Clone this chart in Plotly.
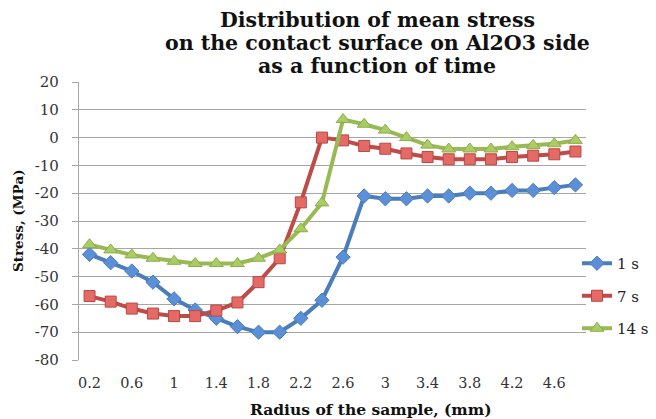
import plotly.graph_objects as go

radius = [0.2, 0.4, 0.6, 0.8, 1.0, 1.2, 1.4, 1.6, 1.8, 2.0, 2.2, 2.4,
          2.6, 2.8, 3.0, 3.2, 3.4, 3.6, 3.8, 4.0, 4.2, 4.4, 4.6, 4.8]
s1 = [-42, -45, -48, -52, -58, -62, -65, -68, -70, -70, -65, -58.5,
      -43, -21, -22, -22, -21, -21, -20, -20, -19, -19, -18, -17]
s7 = [-57, -59, -61.5, -63.3, -64.2, -64.2, -62.2, -59.3, -52, -43.4, -23.3, 0,
      -1, -3, -4, -5.7, -7, -7.8, -7.8, -7.8, -7, -6.5, -6, -5]
s14 = [-38.5, -40.4, -42.2, -43.4, -44.5, -45.3, -45.3, -45.3, -43.4, -40.4, -32.8, -23.5,
       6.5, 4.8, 2.7, 0, -2.7, -4.1, -4.1, -4.1, -3.3, -2.8, -2.2, -1]
x_tick_vals = [0.2, 0.6, 1.0, 1.4, 1.8, 2.2, 2.6, 3.0, 3.4, 3.8, 4.2, 4.6]
x_tick_text = ["0.2", "0.6", "1", "1.4", "1.8", "2.2", "2.6", "3", "3.4", "3.8", "4.2", "4.6"]
y_tick_vals = [20, 10, 0, -10, -20, -30, -40, -50, -60, -70, -80]
y_tick_text = ["20", "10", "0", "-10", "-20", "-30", "-40", "-50", "-60", "-70", "-80"]
names = ["1 s", "7 s", "14 s"]
title_lines = ["Distribution of mean stress",
               "on the contact surface on Al2O3 side",
               "as a function of time"]
x_title = "Radius of the sample, (mm)"
y_title = "Stress, (MPa)"

serif = "DejaVu Serif"

fig = go.Figure()
fig.add_trace(go.Scatter(
    x=radius, y=s1, name=names[0], mode="lines+markers", legendgroup="a",
    line=dict(color="#4A7EBB", width=4),
    marker=dict(symbol="diamond", size=11, color="#5B90D8", line=dict(color="#4A7EBB", width=1))))
fig.add_trace(go.Scatter(
    x=radius, y=s7, name=names[1], mode="lines+markers", legendgroup="b",
    line=dict(color="#BE4B48", width=4),
    marker=dict(symbol="square", size=11, color="#E46A66", line=dict(color="#B84744", width=1))))
fig.add_trace(go.Scatter(
    x=radius, y=s14, name=names[2], mode="lines+markers", legendgroup="c",
    line=dict(color="#98B954", width=4),
    marker=dict(symbol="triangle-up", size=12, color="#A9CD63", line=dict(color="#8CAD4C", width=1))))

annotations = []
title_y_px = [20, 43, 66]
for line, ypx in zip(title_lines, title_y_px):
    annotations.append(dict(
        text=line, xref="paper", yref="paper",
        x=(377 - 79) / 507, y=1 + (82 - ypx) / 278,
        xanchor="center", yanchor="middle", showarrow=False,
        font=dict(family=serif, size=20.5, color="#111111", weight="bold")))
annotations.append(dict(
    text=x_title, xref="paper", yref="paper",
    x=(371 - 79) / 507, y=(360 - 409) / 278,
    xanchor="center", yanchor="middle", showarrow=False,
    font=dict(family=serif, size=15.5, color="#111111", weight="bold")))
annotations.append(dict(
    text=y_title, xref="paper", yref="paper",
    x=(18 - 79) / 507, y=0.5, textangle=-90,
    xanchor="center", yanchor="middle", showarrow=False,
    font=dict(family=serif, size=13.5, color="#111111", weight="bold")))

fig.update_layout(
    width=656, height=419,
    margin=dict(l=79, r=70, t=82, b=59, autoexpand=False),
    paper_bgcolor="white", plot_bgcolor="white",
    font=dict(family=serif, size=14, color="#222222"),
    annotations=annotations,
    legend=dict(
        xref="container", yref="container",
        x=577 / 656, xanchor="left", y=1 - 296 / 419, yanchor="middle",
        font=dict(family=serif, size=15, color="#222222"),
        tracegroupgap=10, traceorder="grouped",
        bgcolor="rgba(0,0,0,0)"),
    showlegend=True,
)
fig.update_xaxes(
    range=[0.1, 4.9], tickmode="array", tickvals=x_tick_vals, ticktext=x_tick_text,
    showgrid=False, showline=False, zeroline=False, ticks="",
    ticklabelstandoff=12,
    tickfont=dict(family=serif, size=14.5, color="#333333"),
)
fig.update_yaxes(
    range=[-80, 20], tickmode="array", tickvals=y_tick_vals, ticktext=y_tick_text,
    showgrid=True, gridcolor="#A6A6A6", gridwidth=1.3,
    showline=True, linecolor="#A6A6A6", linewidth=1.3,
    zeroline=False, ticks="outside", ticklen=6, tickcolor="#A6A6A6",
    ticklabelstandoff=10,
    tickfont=dict(family=serif, size=15, color="#333333"),
)

fig.write_html("out.html")
